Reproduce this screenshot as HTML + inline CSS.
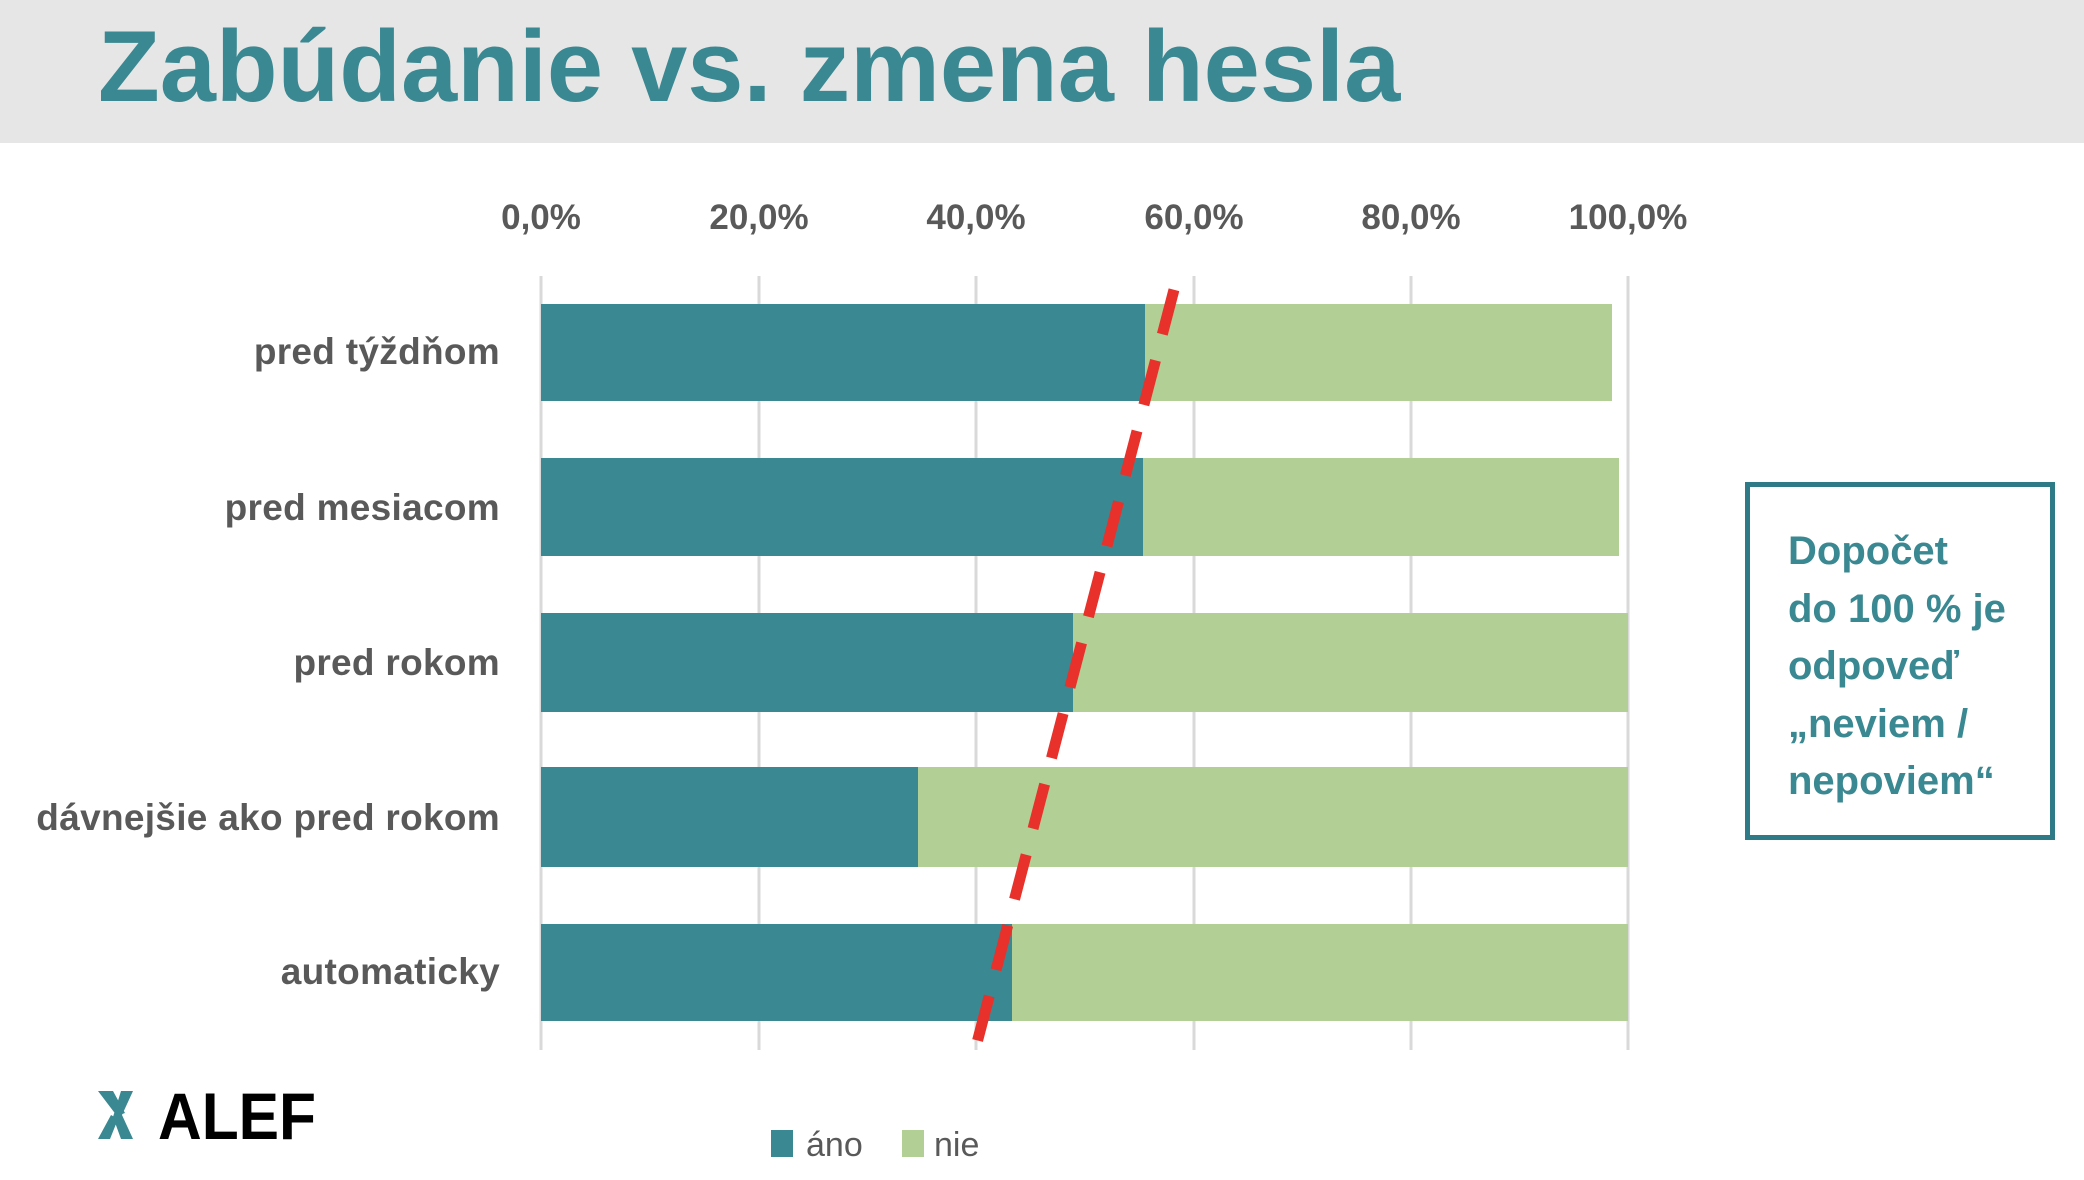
<!DOCTYPE html>
<html><head><meta charset="utf-8"><style>
body{margin:0;width:2084px;height:1180px;background:#fff;overflow:hidden;position:relative;font-family:"Liberation Sans",sans-serif}
.band{position:absolute;left:0;top:0;width:2084px;height:143px;background:#e6e6e6}
.title{position:absolute;left:98px;top:10px;font-size:101px;font-weight:bold;color:#3a8891;letter-spacing:0px;white-space:nowrap}
.tick{position:absolute;top:198px;font-size:35px;font-weight:bold;color:#595959;transform:translateX(-50%)}
.cat{position:absolute;right:1584px;font-size:37px;font-weight:bold;color:#595959;white-space:nowrap;letter-spacing:0.3px}
.box{position:absolute;left:1745px;top:482px;width:300px;height:348px;border:5px solid #2e7a86;box-sizing:content-box}
.box div{position:absolute;left:38px;top:36px;font-size:40px;font-weight:bold;color:#3a8891;line-height:57.5px;white-space:nowrap}
</style></head><body>
<div class="band"></div>
<div class="title">Zabúdanie vs. zmena hesla</div>
<div class="tick" style="left:541px">0,0%</div>
<div class="tick" style="left:759px">20,0%</div>
<div class="tick" style="left:976px">40,0%</div>
<div class="tick" style="left:1194px">60,0%</div>
<div class="tick" style="left:1411px">80,0%</div>
<div class="tick" style="left:1628px">100,0%</div>
<svg width="2084" height="1180" style="position:absolute;left:0;top:0">
<g stroke="#d9d9d9" stroke-width="3">
<line x1="541" y1="276" x2="541" y2="1050"/><line x1="759" y1="276" x2="759" y2="1050"/><line x1="976" y1="276" x2="976" y2="1050"/><line x1="1194" y1="276" x2="1194" y2="1050"/><line x1="1411" y1="276" x2="1411" y2="1050"/><line x1="1628" y1="276" x2="1628" y2="1050"/>
</g>
<g>
<rect x="541" y="304" width="604" height="97" fill="#3a8891"/><rect x="1145" y="304" width="467" height="97" fill="#b2cf96"/>
<rect x="541" y="458" width="602" height="98" fill="#3a8891"/><rect x="1143" y="458" width="476" height="98" fill="#b2cf96"/>
<rect x="541" y="613" width="532" height="99" fill="#3a8891"/><rect x="1073" y="613" width="555" height="99" fill="#b2cf96"/>
<rect x="541" y="767" width="377" height="100" fill="#3a8891"/><rect x="918" y="767" width="710" height="100" fill="#b2cf96"/>
<rect x="541" y="924" width="471" height="97" fill="#3a8891"/><rect x="1012" y="924" width="616" height="97" fill="#b2cf96"/>
</g>
<line x1="1176" y1="282" x2="973" y2="1058" stroke="#e8312a" stroke-width="11" stroke-dasharray="46,27" stroke-dashoffset="-8"/>
<path d="M98 1091h15l12 22 -8 3 -19-25z M121 1091h12l-11 24 11 24h-12l-8-22z M98 1139l13-24 7 4 -8 20z" fill="#3a8891"/>
<text x="158" y="1139" font-family="Liberation Sans" font-weight="bold" font-size="66" fill="#000" textLength="158" lengthAdjust="spacingAndGlyphs">ALEF</text>
<rect x="771" y="1130" width="22" height="27" fill="#3a8891"/>
<rect x="902" y="1130" width="22" height="27" fill="#b2cf96"/>
<text x="806" y="1156" font-family="Liberation Sans" font-size="34" fill="#595959">áno</text>
<text x="934" y="1156" font-family="Liberation Sans" font-size="34" fill="#595959">nie</text>
</svg>
<div class="cat" style="top:331px">pred týždňom</div>
<div class="cat" style="top:487px">pred mesiacom</div>
<div class="cat" style="top:642px">pred rokom</div>
<div class="cat" style="top:797px">dávnejšie ako pred rokom</div>
<div class="cat" style="top:951px">automaticky</div>
<div class="box"><div>Dopočet<br>do 100 % je<br>odpoveď<br>„neviem /<br>nepoviem“</div></div>
</body></html>
